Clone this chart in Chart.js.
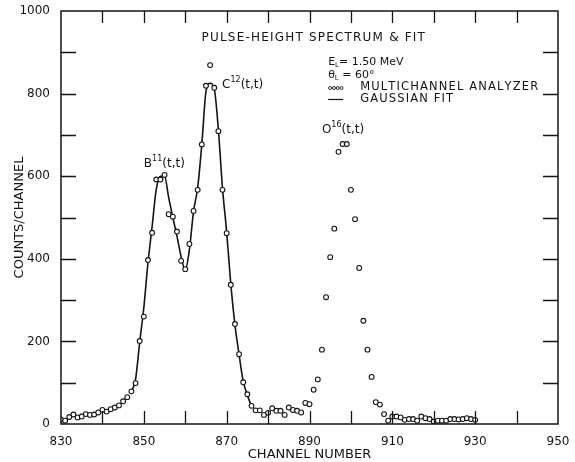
<!DOCTYPE html>
<html>
<head>
<meta charset="utf-8">
<script src="https://cdn.jsdelivr.net/npm/chart.js@4.4.0/dist/chart.umd.min.js"></script>
<style>
    html, body { margin: 0; padding: 0; background: #fff; }
</style>
</head>
<body>
<canvas id="spectrumChart" width="575" height="462"></canvas>
<script>
// multichannel analyzer readings, one per channel
var channels = [
    830, 831, 832, 833, 834, 835, 836, 837, 838, 839,
    840, 841, 842, 843, 844, 845, 846, 847, 848, 849,
    850, 851, 852, 853, 854, 855, 856, 857, 858, 859,
    860, 861, 862, 863, 864, 865, 866, 867, 868, 869,
    870, 871, 872, 873, 874, 875, 876, 877, 878, 879,
    880, 881, 882, 883, 884, 885, 886, 887, 888, 889,
    890, 891, 892, 893, 894, 895, 896, 897, 898, 899,
    900, 901, 902, 903, 904, 905, 906, 907, 908, 909,
    910, 911, 912, 913, 914, 915, 916, 917, 918, 919,
    920, 921, 922, 923, 924, 925, 926, 927, 928, 929, 930
];
var counts = [
    11, 8, 17, 23, 16, 18, 24, 22, 23, 28,
    34, 30, 36, 40, 45, 55, 65, 79, 99, 201,
    260, 397, 463, 592, 592, 603, 508, 502, 466, 395,
    375, 436, 516, 567, 677, 819, 869, 814, 709, 567,
    462, 337, 242, 169, 101, 72, 44, 33, 33, 22,
    27, 38, 32, 32, 22, 40, 34, 32, 28, 51,
    48, 83, 108, 180, 307, 404, 473, 659, 678, 678,
    567, 496, 378, 250, 180, 114, 53, 47, 24, 8,
    18, 18, 16, 10, 12, 12, 8, 18, 14, 12,
    6, 8, 8, 8, 12, 12, 11, 12, 14, 12, 10
];

// gaussian fit curve
var fitChannels = [
    847, 848, 849, 850, 851, 852, 853, 854, 855, 856,
    857, 858, 859, 860, 861, 862, 863, 864, 865, 866,
    867, 868, 869, 870, 871, 872, 873, 874, 875, 876
];
var fitCounts = [
    78, 108, 198, 282, 390, 478, 568, 600, 600, 548,
    500, 455, 405, 373, 422, 515, 572, 677, 805, 825,
    812, 712, 570, 465, 338, 240, 168, 103, 70, 42
];

var xMin = 830, xMax = 950, xStep = 10;
var yMin = 0, yMax = 1000, yStep = 100;

var INK = '#141414';
var FONT = '"DejaVu Sans", sans-serif';

function toPoints(xs, ys) {
    return xs.map(function (x, i) { return { x: x, y: ys[i] }; });
}

// spread lettering a little, like the stencilled original
function spaced(s) {
    return s.split('').join('\u200a');
}

function drawRuns(g, x, y, runs) {
    runs.forEach(function (r) {
        g.font = r.size + 'px ' + FONT;
        g.fillText(r.text, x, y + (r.dy || 0));
        x += g.measureText(r.text).width;
    });
    return x;
}

function drawBox(chart) {
    var g = chart.ctx, a = chart.chartArea;
    var xs = chart.scales.x, ys = chart.scales.y;
    g.save();
    g.setLineDash([]);
    g.strokeStyle = INK;
    g.lineWidth = 1.5;
    g.strokeRect(a.left, a.top, a.right - a.left, a.bottom - a.top);

    g.lineWidth = 1.3;
    g.beginPath();
    for (var v = xMin + xStep; v < xMax; v += xStep) {
        var tx = Math.round(xs.getPixelForValue(v)) + 0.5;
        g.moveTo(tx, a.bottom); g.lineTo(tx, a.bottom - 13);
        g.moveTo(tx, a.top); g.lineTo(tx, a.top + 12);
    }
    for (var w = yMin + yStep; w < yMax; w += yStep) {
        var ty = Math.round(ys.getPixelForValue(w)) + 0.5;
        g.moveTo(a.left, ty); g.lineTo(a.left + 15, ty);
        g.moveTo(a.right, ty); g.lineTo(a.right - 15, ty);
    }
    g.stroke();
    g.restore();
}

function drawNotes(chart) {
    var g = chart.ctx;
    var xs = chart.scales.x, ys = chart.scales.y;
    var px = function (v) { return xs.getPixelForValue(v); };
    var py = function (v) { return ys.getPixelForValue(v); };

    g.save();
    g.fillStyle = INK;
    g.strokeStyle = INK;
    g.textBaseline = 'middle';
    g.textAlign = 'left';

    // peak labels
    drawRuns(g, px(850.0), py(630), [
        { text: 'B', size: 12 }, { text: '11', size: 8, dy: -5 }, { text: '(t,t)', size: 12 }
    ]);
    drawRuns(g, px(868.9), py(821), [
        { text: 'C', size: 12 }, { text: '12', size: 8, dy: -5 }, { text: '(t,t)', size: 12 }
    ]);
    drawRuns(g, px(893.0), py(712), [
        { text: 'O', size: 12 }, { text: '16', size: 8, dy: -5 }, { text: '(t,t)', size: 12 }
    ]);

    // title
    g.font = '12px ' + FONT;
    g.textAlign = 'center';
    g.fillText(spaced('PULSE-HEIGHT SPECTRUM & FIT'), px(890.9), py(935));
    g.textAlign = 'left';

    // key
    var lx = px(894.5);
    drawRuns(g, lx, py(877), [
        { text: 'E', size: 11 }, { text: 'L', size: 7, dy: 3 }, { text: '= 1.50 MeV', size: 11 }
    ]);
    drawRuns(g, lx, py(845), [
        { text: '\u03b8', size: 11 }, { text: 'L', size: 7, dy: 3 }, { text: ' = 60\u00b0', size: 11 }
    ]);

    var r3 = py(816), r4 = py(787);
    g.lineWidth = 0.9;
    for (var i = 0; i < 4; i++) {
        g.beginPath();
        g.arc(lx + 2 + i * 3.8, r3 + 1, 1.5, 0, Math.PI * 2);
        g.stroke();
    }
    g.lineWidth = 1.2;
    g.beginPath();
    g.moveTo(lx, r4 + 0.5);
    g.lineTo(lx + 15, r4 + 0.5);
    g.stroke();

    g.font = '11.5px ' + FONT;
    g.fillText(spaced('MULTICHANNEL ANALYZER'), lx + 32, r3);
    g.fillText(spaced('GAUSSIAN FIT'), lx + 32, r4);
    g.restore();
}

var spectrumPlugin = {
    id: 'spectrumPlugin',
    afterDatasetsDraw: function (chart) { drawNotes(chart); },
    afterDraw: function (chart) { drawBox(chart); }
};

var ctx = document.getElementById('spectrumChart').getContext('2d');

var spectrumChart = new Chart(ctx, {
    type: 'scatter',
    data: {
        datasets: [{
            label: 'Multichannel analyzer',
            data: toPoints(channels, counts),
            pointRadius: 2.4,
            pointBorderWidth: 1.1,
            pointBackgroundColor: '#fff',
            pointBorderColor: INK,
            showLine: false,
            order: 0
        }, {
            label: 'Gaussian fit',
            data: toPoints(fitChannels, fitCounts),
            showLine: true,
            pointRadius: 0,
            borderColor: INK,
            borderWidth: 1.6,
            cubicInterpolationMode: 'monotone',
            order: 1
        }]
    },
    options: {
        responsive: false,
        animation: false,
        devicePixelRatio: 1,
        layout: { padding: { top: 11, right: 17, left: 0, bottom: 0 } },
        plugins: {
            legend: { display: false },
            tooltip: { enabled: false }
        },
        scales: {
            x: {
                type: 'linear',
                min: xMin,
                max: xMax,
                grid: { display: false },
                border: { display: false },
                ticks: {
                    stepSize: xStep,
                    autoSkip: false,
                    maxRotation: 0,
                    padding: 3,
                    color: INK,
                    font: { family: FONT, size: 12 },
                    callback: function (v) { return v % 20 === 10 ? v : ''; }
                },
                title: {
                    display: true,
                    text: 'CHANNEL NUMBER',
                    color: INK,
                    padding: 0,
                    font: { family: FONT, size: 13 }
                },
                afterFit: function (scale) { scale.height = 38; }
            },
            y: {
                type: 'linear',
                min: yMin,
                max: yMax,
                grid: { display: false },
                border: { display: false },
                ticks: {
                    stepSize: yStep,
                    padding: 3,
                    color: INK,
                    font: { family: FONT, size: 12 },
                    callback: function (v) { return v % 200 === 0 ? v : ''; }
                },
                title: {
                    display: true,
                    text: 'COUNTS/CHANNEL',
                    color: INK,
                    padding: 12,
                    font: { family: FONT, size: 13 }
                },
                afterFit: function (scale) { scale.width = 61; }
            }
        }
    },
    plugins: [spectrumPlugin]
});
</script>
</body>
</html>
